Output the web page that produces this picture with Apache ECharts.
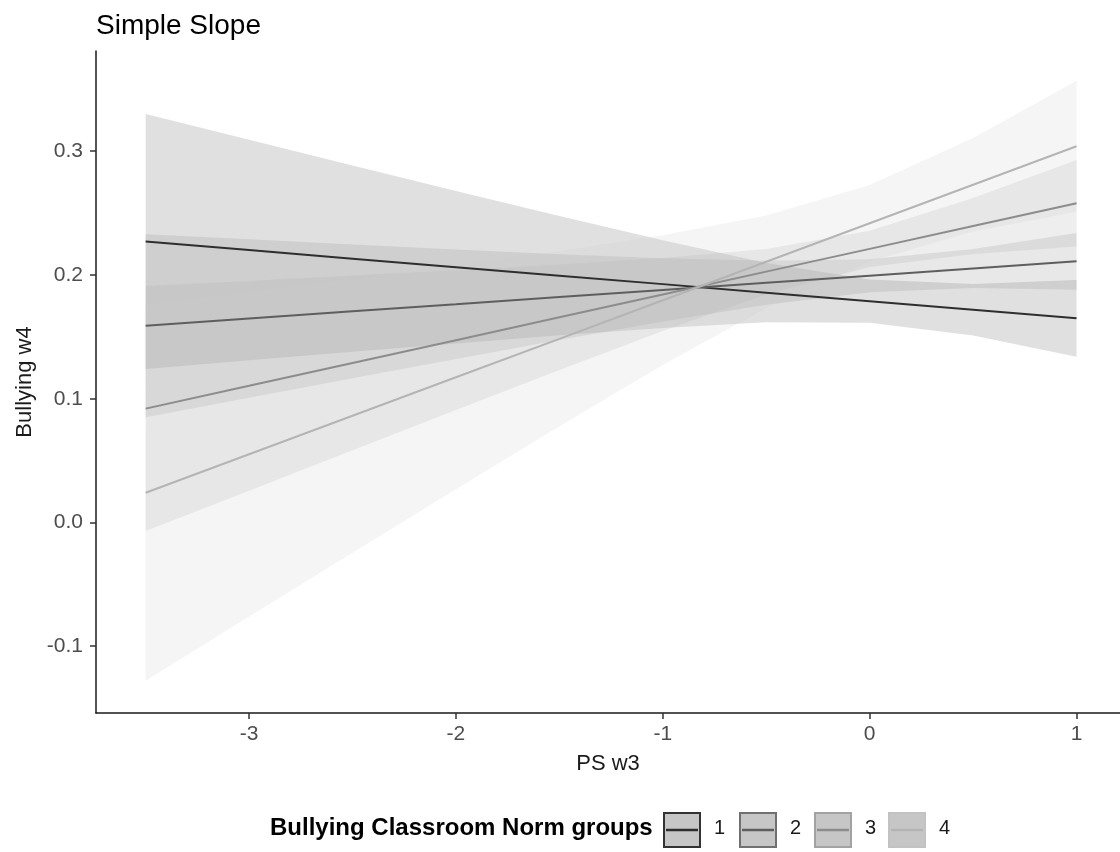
<!DOCTYPE html>
<html>
<head>
<meta charset="utf-8">
<script src="https://cdn.jsdelivr.net/npm/echarts@6/dist/echarts.min.js"></script>
<style>
html,body{margin:0;padding:0;background:#fff;}
#chart{width:1120px;height:852px;}
</style>
</head>
<body>
<div id="chart"></div>
<script>
// ---- data ----
const xs = [-3.5, -3, -2.5, -2, -1.5, -1, -0.5, 0, 0.5, 1];
const groups = ['1', '2', '3', '4'];

const fit1 = [0.227, 0.2201, 0.2132, 0.2063, 0.1994, 0.1926, 0.1857, 0.1788, 0.1719, 0.165];
const fit2 = [0.159, 0.1648, 0.1706, 0.1763, 0.1821, 0.1879, 0.1937, 0.1994, 0.2052, 0.211];
const fit3 = [0.092, 0.1104, 0.1289, 0.1473, 0.1658, 0.1842, 0.2027, 0.2211, 0.2396, 0.258];
const fit4 = [0.024, 0.0551, 0.0862, 0.1173, 0.1484, 0.1796, 0.2107, 0.2418, 0.2729, 0.304];

const lower1 = [0.124, 0.131, 0.1379, 0.1447, 0.1512, 0.1572, 0.1617, 0.1613, 0.1511, 0.134];
const upper1 = [0.330, 0.3092, 0.2885, 0.2679, 0.2476, 0.228, 0.2097, 0.1963, 0.1927, 0.196];
const lower2 = [0.085, 0.1008, 0.1165, 0.132, 0.1474, 0.1623, 0.176, 0.1861, 0.1894, 0.188];
const upper2 = [0.233, 0.2288, 0.2247, 0.2206, 0.2168, 0.2135, 0.2114, 0.2127, 0.221, 0.234];
const lower3 = [-0.007, 0.0257, 0.0583, 0.0908, 0.1231, 0.1547, 0.1845, 0.2065, 0.217, 0.223];
const upper3 = [0.191, 0.1951, 0.1995, 0.2038, 0.2085, 0.2137, 0.2209, 0.2357, 0.2622, 0.293];
const lower4 = [-0.128, -0.0761, -0.0244, 0.0269, 0.0777, 0.1272, 0.1733, 0.2108, 0.2351, 0.251];
const upper4 = [0.176, 0.1863, 0.1968, 0.2077, 0.2191, 0.232, 0.2481, 0.2728, 0.3107, 0.357];

const xTicks = [-3, -2, -1, 0, 1];
const yTicks = [-0.1, 0.0, 0.1, 0.2, 0.3];

// ---- styles ----
const fits = [fit1, fit2, fit3, fit4];
const lowers = [lower1, lower2, lower3, lower4];
const uppers = [upper1, upper2, upper3, upper4];
const lineColors = ['#2e2e2e', '#5e5e5e', '#8c8c8c', '#b4b4b4'];
const bandColors = ['#646464', '#8c8c8c', '#aaaaaa', '#cdcdcd'];
const keyBorders = ['#333333', '#707070', '#a2a2a2', '#c2c2c2'];
const FONT = '"Liberation Sans", Arial, Helvetica, sans-serif';

const series = [];
groups.forEach((g, i) => {
  const lo = lowers[i], up = uppers[i];
  series.push({
    name: 'band' + g,
    type: 'custom',
    z: 1,
    silent: true,
    data: xs.map((x, j) => [x, lo[j], up[j]]),
    encode: { x: 0, y: [1, 2] },
    renderItem: function (params, api) {
      if (params.dataIndex !== 0) return null;
      const pts = [];
      for (let j = 0; j < xs.length; j++) pts.push(api.coord([xs[j], up[j]]));
      for (let j = xs.length - 1; j >= 0; j--) pts.push(api.coord([xs[j], lo[j]]));
      return {
        type: 'polygon',
        shape: { points: pts },
        style: { fill: bandColors[i], opacity: 0.2 }
      };
    }
  });
});
groups.forEach((g, i) => {
  series.push({
    name: g,
    type: 'line',
    z: 3,
    silent: true,
    symbol: 'none',
    data: xs.map((x, j) => [x, fits[i][j]]),
    lineStyle: { color: lineColors[i], width: 2 },
    itemStyle: { color: lineColors[i] }
  });
});

// legend drawn as graphic (box + line keys like ggplot)
const legendGraphics = [];
legendGraphics.push({
  type: 'text', left: 270, top: 816,
  style: { text: 'Bullying Classroom Norm groups', font: 'bold 24px ' + FONT, fill: '#000' }
});
const keyX = [664, 740, 815, 889];
groups.forEach((g, i) => {
  legendGraphics.push({
    type: 'rect', shape: { x: keyX[i], y: 813, width: 36, height: 34 },
    style: { fill: '#c6c6c6', stroke: keyBorders[i], lineWidth: 2 }
  });
  legendGraphics.push({
    type: 'line', shape: { x1: keyX[i] + 2, y1: 830, x2: keyX[i] + 34, y2: 830 },
    style: { stroke: lineColors[i], lineWidth: 2.5 }
  });
  legendGraphics.push({
    type: 'text', left: keyX[i] + 50, top: 818,
    style: { text: g, font: '20px ' + FONT, fill: '#1a1a1a' }
  });
});

const chart = echarts.init(document.getElementById('chart'), null, { renderer: 'canvas' });
chart.setOption({
  animation: false,
  backgroundColor: '#ffffff',
  title: {
    text: 'Simple Slope', left: 96, top: 12, padding: 0,
    textStyle: { fontFamily: FONT, fontSize: 28, fontWeight: 'normal', color: '#000' }
  },
  grid: { left: 96, right: 0, top: 51, bottom: 139, containLabel: false },
  xAxis: {
    type: 'value', min: -3.74, max: 1.21,
    name: 'PS w3', nameLocation: 'middle', nameGap: 40,
    nameTextStyle: { fontFamily: FONT, fontSize: 22, color: '#1a1a1a' },
    axisLine: { onZero: false, lineStyle: { color: '#1a1a1a', width: 1.5 } },
    axisTick: { show: true, customValues: xTicks, length: 6, lineStyle: { color: '#333', width: 1.5 } },
    axisLabel: { customValues: xTicks, fontFamily: FONT, fontSize: 21, color: '#4d4d4d', margin: 11,
      formatter: v => String(v) },
    splitLine: { show: false }
  },
  yAxis: {
    type: 'value', min: -0.154, max: 0.381,
    name: 'Bullying w4', nameLocation: 'middle', nameGap: 60, nameRotate: 90,
    nameTextStyle: { fontFamily: FONT, fontSize: 22, color: '#1a1a1a' },
    axisLine: { onZero: false, lineStyle: { color: '#1a1a1a', width: 1.5 } },
    axisTick: { show: true, customValues: yTicks, length: 6, lineStyle: { color: '#333', width: 1.5 } },
    axisLabel: { customValues: yTicks, fontFamily: FONT, fontSize: 21, color: '#4d4d4d', margin: 13,
      formatter: v => v.toFixed(1) },
    splitLine: { show: false }
  },
  series: series,
  graphic: legendGraphics
});
</script>
</body>
</html>
